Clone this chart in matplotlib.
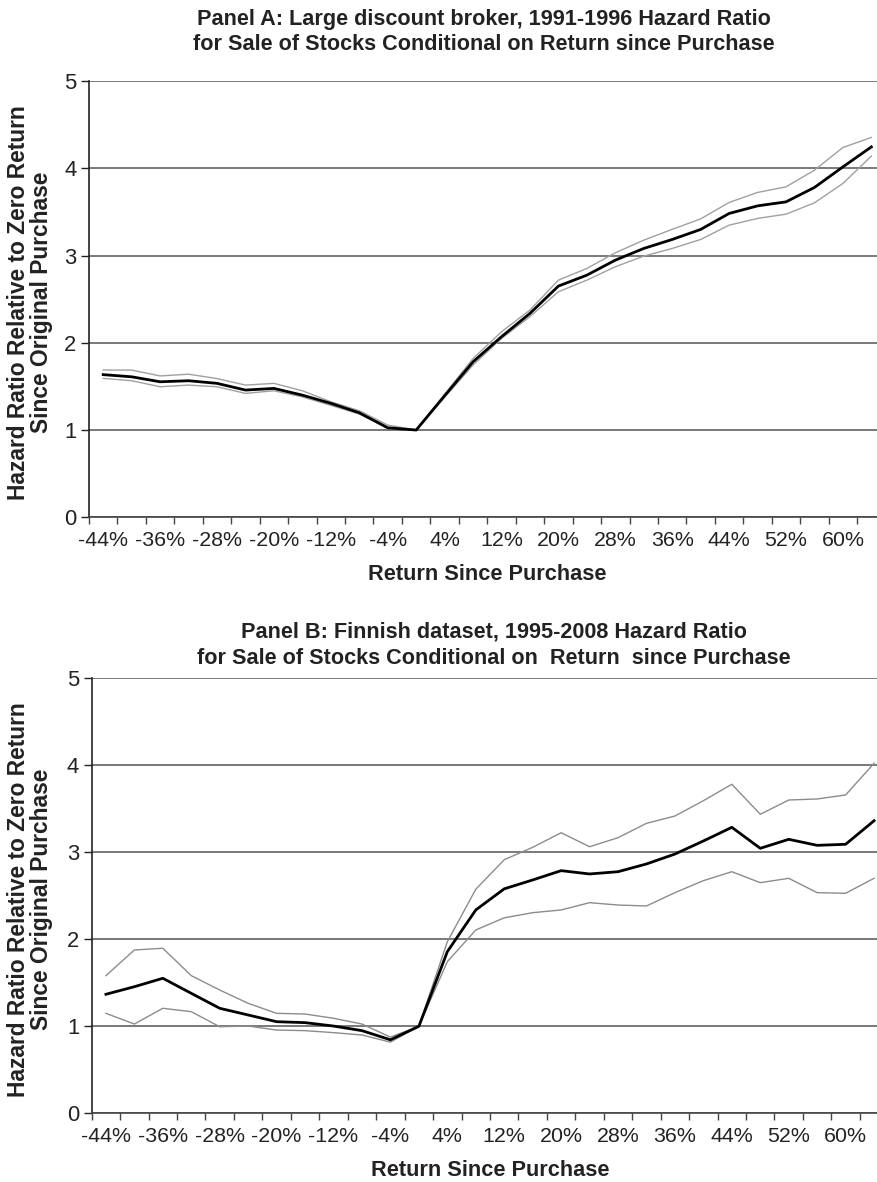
import numpy as np
import matplotlib
matplotlib.use('Agg')
import matplotlib.pyplot as plt

plt.rcParams['font.family'] = ['Liberation Sans', 'DejaVu Sans']

# return categories (percent)
returns = list(range(-44, 65, 4))
tick_labels = [str(r) + '%' for r in returns]

# Panel A: large discount broker 1991-1996
a_mid = [1.635, 1.61, 1.553, 1.565, 1.535, 1.458, 1.477, 1.40, 1.306, 1.198, 1.026, 1.0,
         1.393, 1.782, 2.07, 2.337, 2.65, 2.775, 2.947, 3.081, 3.184, 3.299, 3.482, 3.569,
         3.615, 3.78, 4.016, 4.245]
a_upper = [1.688, 1.687, 1.62, 1.64, 1.59, 1.515, 1.535, 1.45, 1.324, 1.221, 1.057, 1.0,
           1.41, 1.82, 2.126, 2.375, 2.718, 2.852, 3.031, 3.176, 3.30, 3.42, 3.608, 3.723,
           3.787, 3.978, 4.238, 4.353]
a_lower = [1.592, 1.565, 1.496, 1.515, 1.496, 1.42, 1.45, 1.38, 1.283, 1.183, 1.02, 1.0,
           1.375, 1.745, 2.05, 2.30, 2.585, 2.718, 2.871, 2.993, 3.081, 3.184, 3.348, 3.425,
           3.474, 3.604, 3.826, 4.139]

# Panel B: Finnish dataset 1995-2008
b_mid = [1.368, 1.455, 1.552, 1.379, 1.207, 1.13, 1.053, 1.042, 1.003, 0.95, 0.845, 1.0,
         1.858, 2.337, 2.58, 2.682, 2.789, 2.751, 2.777, 2.866, 2.98, 3.13, 3.287, 3.046,
         3.149, 3.08, 3.092, 3.363]
b_upper = [1.582, 1.877, 1.897, 1.582, 1.417, 1.264, 1.149, 1.141, 1.092, 1.026, 0.876, 1.0,
           1.972, 2.575, 2.915, 3.057, 3.225, 3.064, 3.168, 3.333, 3.417, 3.593, 3.782, 3.437,
           3.601, 3.613, 3.659, 4.023]
b_lower = [1.149, 1.026, 1.207, 1.168, 0.995, 1.003, 0.957, 0.95, 0.927, 0.90, 0.818, 1.0,
           1.743, 2.107, 2.247, 2.306, 2.337, 2.421, 2.394, 2.383, 2.536, 2.674, 2.777, 2.651,
           2.701, 2.536, 2.529, 2.701]

title_a = ['Panel A: Large discount broker, 1991-1996 Hazard Ratio',
           'for Sale of Stocks Conditional on Return since Purchase']
title_b = ['Panel B: Finnish dataset, 1995-2008 Hazard Ratio',
           'for Sale of Stocks Conditional on  Return  since Purchase']
ylabel_lines = ['Hazard Ratio Relative to Zero Return', 'Since Original Purchase']

W, H = 878, 1182
fig = plt.figure(figsize=(W / 100, H / 100), dpi=100)
txt = '#222222'


def draw_panel(ax_left, ax_top, ax_bottom, mid, upper, lower, title, title_cx, title_y,
               xlabel_y, ci_color):
    ax = fig.add_axes([ax_left / W, 1 - ax_bottom / H, 796.6 / W, (ax_bottom - ax_top) / H])
    x = np.arange(len(returns))
    ax.plot(x, upper, color=ci_color, lw=1.0)
    ax.plot(x, lower, color=ci_color, lw=1.0)
    ax.plot(x, mid, color='black', lw=2.0)

    ax.set_xlim(-0.5, len(returns) - 0.5)
    ax.set_ylim(0, 5)
    ax.set_yticks([0, 1, 2, 3, 4, 5])
    ax.set_yticklabels(['0', '1', '2', '3', '4', '5'])
    ax.yaxis.grid(True, color='#555555', lw=1.1)
    ax.set_axisbelow(True)

    ax.set_xticks(x[::2])
    ax.set_xticklabels(tick_labels[::2])
    ax.set_xticks(np.arange(len(returns) + 1) - 0.5, minor=True)
    ax.tick_params(axis='x', which='major', length=0, pad=10, labelsize=15.4, colors=txt)
    ax.tick_params(axis='x', which='minor', length=5, width=1, color='#444444')
    ax.tick_params(axis='y', length=6, width=1, pad=3, labelsize=15.8, colors=txt)

    for s in ['top', 'right']:
        ax.spines[s].set_visible(False)
    ax.spines['left'].set_color('#222222')
    ax.spines['bottom'].set_color('#444444')
    ax.spines['left'].set_linewidth(1.2)
    ax.spines['bottom'].set_linewidth(1.2)

    # two-line bold title
    fig.text(title_cx / W, 1 - title_y / H, title[0], ha='center', va='center',
             fontsize=15.6, fontweight='bold', color=txt)
    fig.text(title_cx / W, 1 - (title_y + 26) / H, title[1], ha='center', va='center',
             fontsize=15.6, fontweight='bold', color=txt)
    fig.text((ax_left + 398.3) / W, 1 - xlabel_y / H, 'Return Since Purchase',
             ha='center', va='center', fontsize=15.7, fontweight='bold', color=txt)

    yc = 1 - (ax_top + 221.4) / H
    fig.text(19 / W, yc, ylabel_lines[0], rotation=90, ha='center', va='center',
             fontsize=16.4, fontweight='bold', color=txt)
    fig.text(41.7 / W, yc, ylabel_lines[1], rotation=90, ha='center', va='center',
             fontsize=16.4, fontweight='bold', color=txt)
    return ax


draw_panel(89, 81, 517.3, a_mid, a_upper, a_lower, title_a, 484, 19, 575, '#a0a0a0')
draw_panel(91.7, 678.3, 1113.3, b_mid, b_upper, b_lower, title_b, 494, 632, 1170, '#8c8c8c')

fig.savefig('out.png', dpi=100)
